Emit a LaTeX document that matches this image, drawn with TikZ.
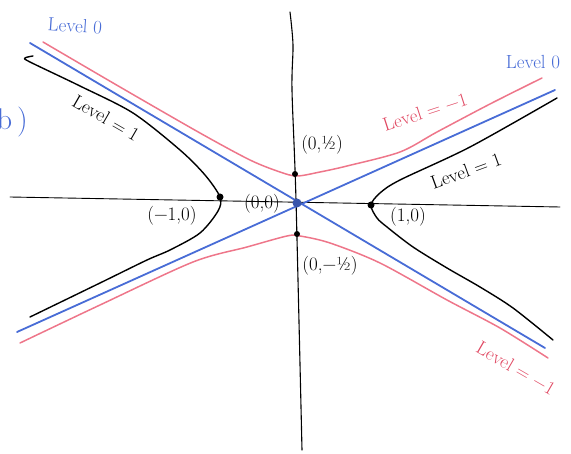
\documentclass[tikz,border=0pt]{standalone}
\usepackage{fontspec}
\definecolor{lvlblue}{RGB}{72,108,214}
\definecolor{lvlpink}{RGB}{238,118,138}
\definecolor{lvlred}{RGB}{224,72,98}
\tikzset{
  lvlzero/.style={lvlblue, line width=1.8},
  lvlminus/.style={lvlpink, line width=1.5},
  lvlone/.style={black, line width=1.4},
  lbl/.style={font=\fontsize{19}{21}\selectfont, inner sep=1pt},
  spot/.style={circle, fill=black, inner sep=0pt, minimum size=#1}
}
\begin{document}
\begin{tikzpicture}[x=1pt, y=-1pt, line join=round, line cap=round]
	\useasboundingbox (0,0) rectangle (571,454);
	% axes
	\draw[line width=0.9] (10,197) -- (560,207);
	\draw[line width=1.1] plot[smooth] coordinates {(290,12) (293,45) (292,90) (296,200) (302,450)};
	% level 0
	\draw[lvlzero] (30,43) -- (545,348);
	\draw[lvlzero] (17,332) -- (555,90);
	% level -1
	\draw[lvlminus] plot[smooth] coordinates {(43,42) (120,87) (200,133) (250,160) (280,172) (297,176) (320,172) (347,166) (400,152) (437,132) (490,104) (542,78)};
	\draw[lvlminus] plot[smooth] coordinates {(20,343) (100,305) (193,262) (247,247) (287,236) (300,236) (330,243) (380,263) (447,300) (500,328) (548,358)};
	% level 1
	\draw[lvlone] plot[smooth] coordinates {(33,56) (25,58) (30,62) (80,86) (133,113) (180,150) (205,175) (220,197) (218,211) (200,233) (170,250) (147,260) (100,283) (30,317)};
	\draw[lvlone] plot[smooth] coordinates {(557,98) (470,147) (400,180) (380,193) (371,205) (377,218) (387,227) (413,247) (447,268) (480,287) (513,308) (553,340)};
	% points
	\node[spot=7pt] (pm) at (220,197) {};
	\node[spot=7pt] (pp) at (371,205) {};
	\node[spot=6pt] (qp) at (295,174) {};
	\node[spot=6pt] (qm) at (297,234) {};
	\node[spot=9pt, fill=lvlblue!80!black] (o) at (297,203) {};
	% labels
	\node[text=lvlblue, anchor=east, inner sep=0pt, font=\fontsize{30}{32}\selectfont] (part) at (28,122) {b\hspace{5pt})};
	\node[lbl, text=lvlblue, rotate=-4] (zl) at (75,26) {Level 0};
	\node[lbl, text=lvlblue] (zr) at (533,62) {Level 0};
	\node[lbl, rotate=-30] (ol) at (106,118) {Level = 1};
	\node[lbl, rotate=20] (or) at (466,171) {Level = 1};
	\node[lbl, text=lvlred, rotate=18] (ml) at (425,112) {Level = −1};
	\node[lbl, text=lvlred, rotate=-30] (mr) at (516,368) {Level = −1};
	\node[lbl] (tm) at (172,216) {(−1,0)};
	\node[lbl] (to) at (262,204) {(0,0)};
	\node[lbl] (tp) at (408,217) {(1,0)};
	\node[lbl] (th) at (322,145) {(0,½)};
	\node[lbl] (tl) at (330,266) {(0,−½)};
\end{tikzpicture}
\end{document}
